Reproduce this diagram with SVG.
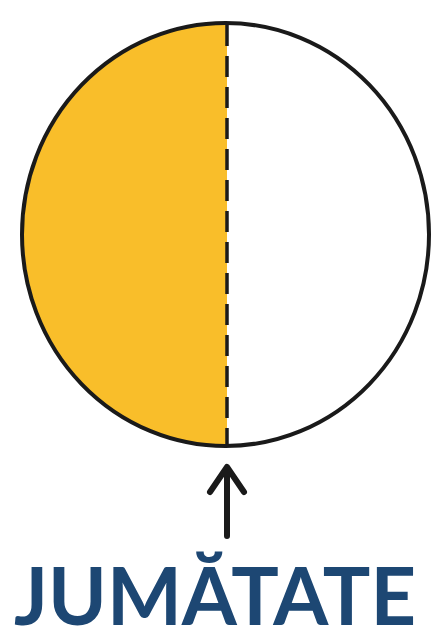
<svg xmlns="http://www.w3.org/2000/svg" width="436" height="632" viewBox="0 0 436 632">
<style>
.outline{fill:none;stroke:#1a1a1a;stroke-width:4}
.half{fill:#F9BE2A}
.divider{stroke:#1a1a1a;stroke-width:3.5;stroke-dasharray:21 10;fill:none}
.arrow{stroke:#1a1a1a;stroke-width:6;fill:none;stroke-linecap:round;stroke-linejoin:round}
.label{font-family:Lato,"Open Sans","Liberation Sans",sans-serif;font-weight:700;fill:#1d4773}
</style>
<rect width="436" height="632" fill="#ffffff"/>
<g id="circle">
<path class="half" d="M227 23 A203.5 211.5 0 0 0 227 446 Z"/>
<ellipse class="outline" cx="225.5" cy="234.5" rx="203.5" ry="211.5"/>
<line class="divider" x1="227" y1="25" x2="227" y2="444"/>
</g>
<g id="connectors">
<path class="arrow" d="M227 536 V468 M210 492 L227 467 L244 492"/>
</g>
<g id="label">
<text class="label" x="215" y="625" font-size="80" text-anchor="middle" textLength="402" lengthAdjust="spacingAndGlyphs">JUMĂTATE</text>
</g>
</svg>
